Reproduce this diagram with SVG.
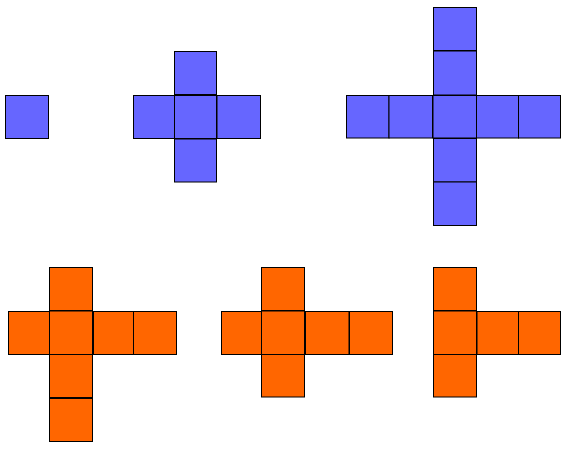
<svg xmlns="http://www.w3.org/2000/svg" width="569" height="450" viewBox="0 0 569 450">
<style>
.b{fill:#6666ff;stroke:#000;stroke-width:1}
.o{fill:#ff6600;stroke:#000;stroke-width:1}
</style>
<rect width="569" height="450" fill="#fff"/>
<g id="blue-single">
<rect class="b" x="5.5" y="95.5" width="43" height="43"/>
</g>
<g id="blue-cross">
<rect class="b" x="174.5" y="51.5" width="42" height="43"/>
<rect class="b" x="133.5" y="95.5" width="41" height="43"/>
<rect class="b" x="174.5" y="95.5" width="42" height="43"/>
<rect class="b" x="217" y="95.5" width="43.5" height="43"/>
<rect class="b" x="174.5" y="139" width="42" height="43"/>
</g>
<g id="blue-big-cross">
<rect class="b" x="433.5" y="7.5" width="43" height="43"/>
<rect class="b" x="433.5" y="51" width="43" height="44"/>
<rect class="b" x="346.5" y="95.5" width="42.5" height="42.5"/>
<rect class="b" x="389" y="95.5" width="43.5" height="42.5"/>
<rect class="b" x="433" y="95.5" width="43.5" height="42.5"/>
<rect class="b" x="476.5" y="95.5" width="42" height="42.5"/>
<rect class="b" x="518.5" y="95.5" width="42" height="42.5"/>
<rect class="b" x="433.5" y="138.5" width="43" height="43.5"/>
<rect class="b" x="433.5" y="182" width="43" height="43.5"/>
</g>
<g id="orange-left">
<rect class="o" x="49.5" y="267.5" width="43" height="43"/>
<rect class="o" x="8.5" y="311.5" width="41" height="43"/>
<rect class="o" x="49.5" y="311" width="43" height="43.5"/>
<rect class="o" x="93.5" y="311.5" width="40" height="43"/>
<rect class="o" x="133.5" y="311.5" width="43" height="43"/>
<rect class="o" x="49.5" y="354.5" width="43" height="43"/>
<rect class="o" x="49.5" y="398.5" width="43" height="43"/>
</g>
<g id="orange-middle">
<rect class="o" x="261.5" y="267.5" width="43" height="43"/>
<rect class="o" x="221.5" y="311.5" width="40" height="43"/>
<rect class="o" x="261.5" y="311" width="43" height="43.5"/>
<rect class="o" x="305.5" y="311.5" width="43.5" height="43"/>
<rect class="o" x="349.5" y="311.5" width="43" height="43"/>
<rect class="o" x="261.5" y="354.5" width="43" height="42.5"/>
</g>
<g id="orange-right">
<rect class="o" x="433.5" y="267.5" width="43" height="43"/>
<rect class="o" x="433.5" y="311" width="43" height="43.5"/>
<rect class="o" x="477" y="311.5" width="41.5" height="43"/>
<rect class="o" x="518.5" y="311.5" width="42" height="43"/>
<rect class="o" x="433.5" y="354.5" width="43" height="42.5"/>
</g>
<g id="connectors"/>
</svg>
